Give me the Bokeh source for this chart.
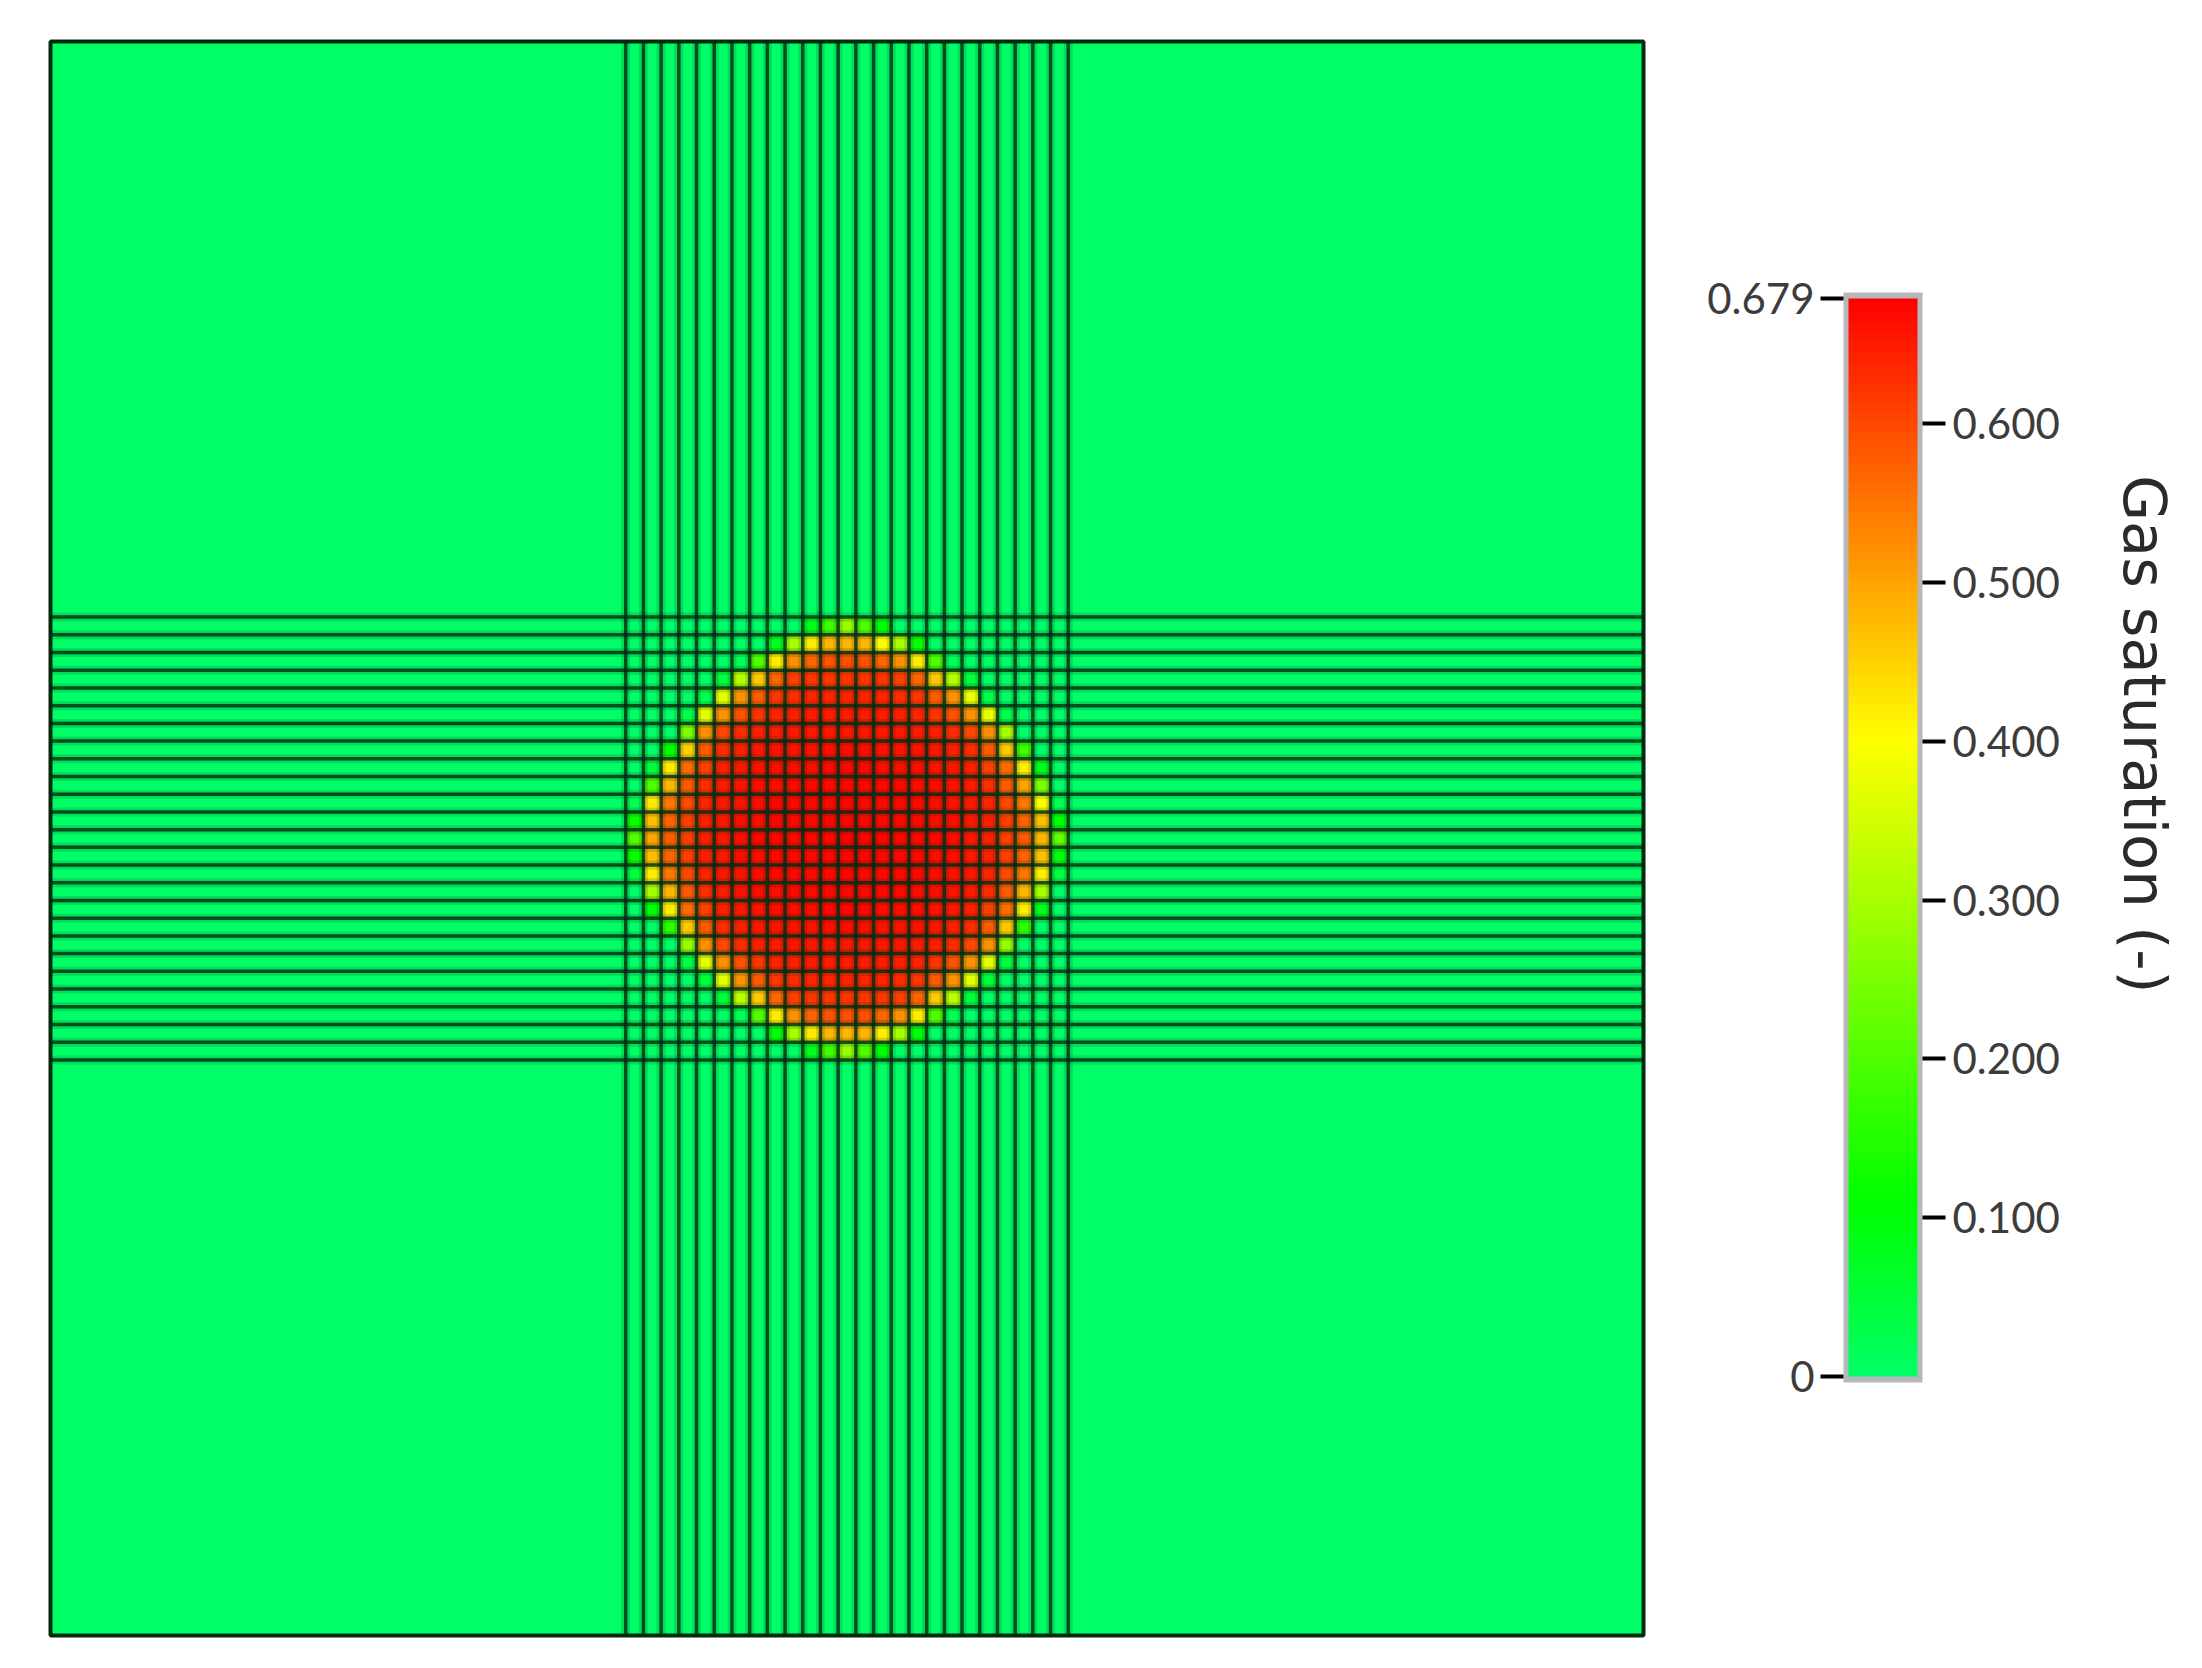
from bokeh.embed import file_html
from bokeh.resources import INLINE
from bokeh.layouts import row
from bokeh.models import (ColumnDataSource, FixedTicker, Label, LinearAxis, LinearColorMapper, Range1d)
from bokeh.plotting import figure
import numpy as np
import math

# ---- data ----------------------------------------------------------------
DOMAIN = [0.0, 90.0]
GRID_EDGES = [32.5, 33.5, 34.5, 35.5, 36.5, 37.5, 38.5, 39.5, 40.5, 41.5, 42.5, 43.5, 44.5,
              45.5, 46.5, 47.5, 48.5, 49.5, 50.5, 51.5, 52.5, 53.5, 54.5, 55.5, 56.5, 57.5]

# gas saturation of the fine cells, top row first
SATURATION = [
 [0,0,0,0,0,0,0,0,0,0,.08,.18,.28,.20,.10,0,0,0,0,0,0,0,0,0,0],
 [0,0,0,0,0,0,0,0,.08,.30,.42,.48,.48,.48,.40,.30,.12,0,0,0,0,0,0,0,0],
 [0,0,0,0,0,0,.02,.20,.42,.52,.57,.59,.59,.59,.57,.52,.42,.20,.02,0,0,0,0,0,0],
 [0,0,0,0,0,.04,.32,.46,.57,.61,.62,.62,.62,.62,.62,.61,.57,.46,.32,.05,0,0,0,0,0],
 [0,0,0,0,.03,.37,.52,.58,.62,.63,.64,.64,.64,.64,.64,.63,.62,.58,.52,.38,.03,0,0,0,0],
 [0,0,0,.03,.37,.52,.59,.62,.64,.645,.65,.65,.65,.65,.65,.645,.64,.62,.59,.52,.38,.03,0,0,0],
 [0,0,0,.25,.52,.60,.63,.645,.65,.655,.655,.655,.655,.655,.655,.655,.65,.645,.63,.60,.52,.30,0,0,0],
 [0,0,.12,.45,.58,.63,.645,.655,.66,.66,.66,.665,.665,.665,.66,.66,.66,.655,.645,.63,.58,.46,.18,0,0],
 [0,.05,.42,.56,.61,.645,.655,.66,.665,.665,.665,.67,.67,.67,.665,.665,.665,.66,.655,.645,.61,.56,.42,.08,0],
 [0,.20,.48,.58,.63,.65,.66,.665,.665,.67,.67,.67,.67,.67,.67,.67,.665,.665,.66,.65,.63,.58,.50,.25,0],
 [.02,.42,.55,.60,.64,.655,.66,.665,.67,.67,.67,.67,.675,.67,.67,.67,.67,.665,.66,.655,.64,.60,.55,.40,.02],
 [.12,.47,.57,.61,.645,.655,.665,.665,.67,.67,.67,.675,.675,.675,.67,.67,.67,.665,.665,.655,.645,.61,.57,.47,.10],
 [.20,.50,.58,.61,.645,.655,.665,.67,.67,.67,.675,.675,.679,.675,.675,.67,.67,.67,.665,.655,.645,.61,.58,.48,.22],
 [.12,.47,.57,.61,.645,.655,.665,.665,.67,.67,.67,.675,.675,.675,.67,.67,.67,.665,.665,.655,.645,.61,.57,.47,.10],
 [.04,.42,.55,.60,.64,.655,.66,.665,.67,.67,.67,.67,.675,.67,.67,.67,.67,.665,.66,.655,.64,.60,.55,.42,.04],
 [0,.30,.48,.58,.63,.65,.66,.665,.665,.67,.67,.67,.67,.67,.67,.67,.665,.665,.66,.65,.63,.58,.48,.30,0],
 [0,.10,.42,.56,.61,.645,.655,.66,.665,.665,.665,.67,.67,.67,.665,.665,.665,.66,.655,.645,.61,.56,.42,.08,0],
 [0,0,.16,.46,.58,.63,.645,.655,.66,.66,.66,.665,.665,.665,.66,.66,.66,.655,.645,.63,.58,.46,.16,0,0],
 [0,0,0,.28,.52,.60,.63,.645,.65,.655,.655,.655,.655,.655,.655,.655,.65,.645,.63,.60,.52,.28,0,0,0],
 [0,0,0,.04,.37,.52,.59,.62,.64,.645,.65,.65,.65,.65,.65,.645,.64,.62,.59,.52,.37,.04,0,0,0],
 [0,0,0,0,.05,.37,.52,.58,.62,.63,.64,.64,.64,.64,.64,.63,.62,.58,.52,.37,.05,0,0,0,0],
 [0,0,0,0,0,.05,.32,.46,.57,.61,.62,.62,.62,.62,.62,.61,.57,.46,.32,.05,0,0,0,0,0],
 [0,0,0,0,0,0,.02,.20,.42,.52,.57,.59,.59,.59,.57,.52,.42,.20,.02,0,0,0,0,0,0],
 [0,0,0,0,0,0,0,0,.10,.30,.42,.48,.48,.48,.42,.30,.10,0,0,0,0,0,0,0,0],
 [0,0,0,0,0,0,0,0,0,0,.08,.18,.28,.20,.10,0,0,0,0,0,0,0,0,0,0],
]

SAT_MIN = 0.0
SAT_MAX = 0.679
RIGHT_TICKS = [0.1, 0.2, 0.3, 0.4, 0.5, 0.6]
RIGHT_LABELS = ["0.100", "0.200", "0.300", "0.400", "0.500", "0.600"]
LEFT_TICKS = [0.0, 0.679]
LEFT_LABELS = ["0", "0.679"]
BAR_TITLE = "Gas saturation (-)"

# ---- colours -------------------------------------------------------------
STOPS = [(0.0, (0, 255, 102)), (0.11, (0, 255, 0)), (0.4, (255, 255, 0)), (0.679, (255, 0, 0))]
levels = np.linspace(SAT_MIN, SAT_MAX, 512)
pos = [s[0] for s in STOPS]
PALETTE = ["#%02x%02x%02x" % tuple(int(round(np.interp(v, pos, [s[1][c] for s in STOPS]))) for c in range(3))
           for v in levels]
mapper = LinearColorMapper(palette=PALETTE, low=SAT_MIN, high=SAT_MAX)

LINE = "#002a10"

# ---- field ---------------------------------------------------------------
p = figure(width=1660, height=1660, output_backend="svg", toolbar_location=None,
           x_range=Range1d(*DOMAIN), y_range=Range1d(*DOMAIN),
           x_axis_type=None, y_axis_type=None,
           min_border_left=50, min_border_right=17, min_border_top=41, min_border_bottom=25)
p.background_fill_color = PALETTE[0]
p.outline_line_color = LINE
p.outline_line_width = 4

left, right, top, bottom, value = [], [], [], [], []
for j, row_vals in enumerate(SATURATION):
    for i, v in enumerate(row_vals):
        if v > 0:
            left.append(GRID_EDGES[i]); right.append(GRID_EDGES[i + 1])
            top.append(GRID_EDGES[len(SATURATION) - j]); bottom.append(GRID_EDGES[len(SATURATION) - j - 1])
            value.append(v)
src = ColumnDataSource(dict(left=left, right=right, top=top, bottom=bottom, value=value))
p.quad(left="left", right="right", top="top", bottom="bottom", source=src,
       fill_color={"field": "value", "transform": mapper}, line_color=None)

n = len(GRID_EDGES)
# a soft wide stroke under a narrow dark one: the grid lines of the picture are slightly blurred
for width, alpha in [(9, 0.16), (3.5, 0.8)]:
    p.segment(x0=GRID_EDGES, x1=GRID_EDGES, y0=[DOMAIN[0]] * n, y1=[DOMAIN[1]] * n,
              line_color=LINE, line_width=width, line_alpha=alpha)
    p.segment(x0=[DOMAIN[0]] * n, x1=[DOMAIN[1]] * n, y0=GRID_EDGES, y1=GRID_EDGES,
              line_color=LINE, line_width=width, line_alpha=alpha)

# ---- colour bar ----------------------------------------------------------
# same frame top and bottom as the field; the scale puts the bar where it sits in the picture
cb = figure(width=534, height=1660, output_backend="svg", toolbar_location=None,
            x_range=Range1d(0, 534), y_range=Range1d(-0.16314, 0.84088),
            x_axis_type=None, y_axis_type=None,
            min_border_left=0, min_border_right=0, min_border_top=41, min_border_bottom=25)
cb.background_fill_color = None
cb.outline_line_color = None
BAR_L, BAR_R = 183, 262
cb.quad(left=BAR_L, right=BAR_R, top=0.6828, bottom=-0.0038, fill_color="#b8b8bc", line_color=None)
ramp = np.linspace(SAT_MIN, SAT_MAX, 512).reshape(512, 1)
cb.image(image=[ramp], x=BAR_L + 5, y=SAT_MIN, dw=BAR_R - BAR_L - 10, dh=SAT_MAX - SAT_MIN, color_mapper=mapper)

FONT = "Lato"
TXT = "#3c3c3c"
def style(ax, standoff, tick_len):
    ax.axis_line_color = None
    ax.minor_tick_line_color = None
    ax.major_tick_in = 0
    ax.major_tick_out = tick_len
    ax.major_tick_line_color = "#000000"
    ax.major_tick_line_width = 4
    ax.major_label_standoff = standoff
    ax.major_label_text_font = FONT
    ax.major_label_text_font_size = "42px"
    ax.major_label_text_color = TXT

ax_r = LinearAxis(ticker=FixedTicker(ticks=RIGHT_TICKS), fixed_location=BAR_R,
                  major_label_overrides=dict(zip(RIGHT_TICKS, RIGHT_LABELS)))
style(ax_r, 7, 23)
cb.add_layout(ax_r, "right")

ax_l = LinearAxis(ticker=FixedTicker(ticks=LEFT_TICKS), fixed_location=BAR_L,
                  major_label_overrides=dict(zip(LEFT_TICKS, LEFT_LABELS)))
style(ax_l, 6, 23)
cb.add_layout(ax_l, "left")

cb.add_layout(Label(x=484, y=0.4044, text=BAR_TITLE, angle=-math.pi / 2,
                    text_align="center", text_baseline="middle",
                    text_font="DejaVu Sans", text_font_size="59px", text_color="#2a2a2a"))

open("out.html", "w").write(file_html(row(p, cb), INLINE))
